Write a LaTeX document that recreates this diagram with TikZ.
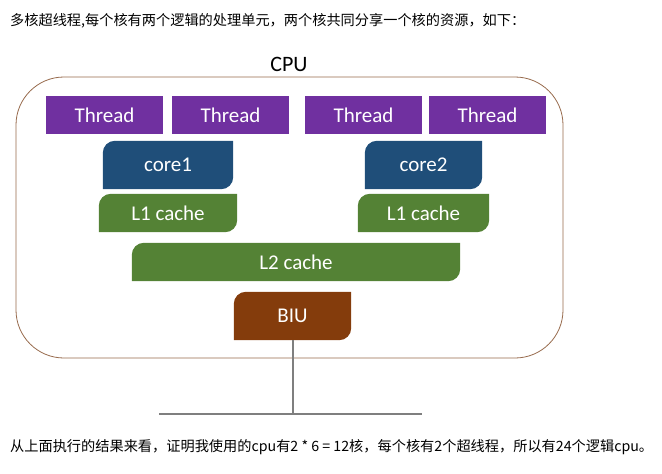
\documentclass[tikz,border=0pt]{standalone}
\usepackage{fontspec}
\setmainfont{Carlito}
\newfontfamily\cjk{Noto Sans CJK SC}
\usetikzlibrary{backgrounds}

\definecolor{threadc}{RGB}{112,48,160}
\definecolor{corec}{RGB}{31,78,121}
\definecolor{cachec}{RGB}{84,130,53}
\definecolor{biuc}{RGB}{132,60,12}
\definecolor{framec}{RGB}{150,105,75}
\definecolor{busc}{RGB}{127,127,127}

\tikzset{
  blk/.style={text=white, inner sep=0pt, font=\fontsize{21}{25}\selectfont},
  thread/.style={blk, fill=threadc, minimum width=117pt, minimum height=38pt},
  memo/.style={anchor=west, inner sep=0pt, font=\cjk\fontsize{14.2}{17}\selectfont},
}

% 左上と右下だけ丸い箱
\newcommand{\cutfill}[2]{%
  \fill[#2] (#1.south west) -- ([yshift=-12pt]#1.north west)
    arc[start angle=180, end angle=90, radius=12pt] -- (#1.north east)
    -- ([yshift=12pt]#1.south east)
    arc[start angle=0, end angle=-90, radius=12pt] -- cycle;}

\begin{document}
\begin{tikzpicture}[x=1pt, y=-1pt]
    \useasboundingbox (0,0) rectangle (662,474);

    % 説明文
    \node[memo] (head) at (10,21) {多核超线程,每个核有两个逻辑的处理单元，两个核共同分享一个核的资源，如下：};

    % CPU の枠
    \node[draw=framec, line width=0.8pt, rounded corners=48pt, minimum width=547pt, minimum height=281pt] (cpubox) at (289.5,217.5) {};
    \node[font=\fontsize{22}{26}\selectfont] (cpu) at (289,64) {CPU};

    % スレッド
    \node[thread] (t1) at (104.5,115) {Thread};
    \node[thread] (t2) at (230.5,115) {Thread};
    \node[thread] (t3) at (363.5,115) {Thread};
    \node[thread] (t4) at (487.5,115) {Thread};

    % コアとキャッシュ
    \node[blk, minimum width=130pt, minimum height=48pt] (core1) at (168,165) {core1};
    \node[blk, minimum width=117pt, minimum height=48pt] (core2) at (423.5,165) {core2};
    \node[blk, minimum width=138pt, minimum height=38pt] (l1a) at (168,213) {L1 cache};
    \node[blk, minimum width=131pt, minimum height=38pt] (l1b) at (423.5,213) {L1 cache};
    \node[blk, minimum width=328pt, minimum height=38pt] (l2) at (296,262) {L2 cache};
    \node[blk, minimum width=117pt, minimum height=48pt] (biu) at (292.5,316) {BIU};

    % 塗りつぶし
    \begin{scope}[on background layer]
        \cutfill{core1}{corec}
        \cutfill{core2}{corec}
        \cutfill{l1a}{cachec}
        \cutfill{l1b}{cachec}
        \cutfill{l2}{cachec}
        \cutfill{biu}{biuc}
    \end{scope}

    % バス
    \coordinate (busL) at (159,414);
    \coordinate (busR) at (422,414);
    \draw[busc, line width=2pt] (biu.south) -- (biu.south |- busL);
    \draw[busc, line width=2pt] (busL) -- (busR);

    \node[memo] (foot) at (10,447) {从上面执行的结果来看，证明我使用的cpu有2 * 6 = 12核，每个核有2个超线程，所以有24个逻辑cpu。};
\end{tikzpicture}
\end{document}
